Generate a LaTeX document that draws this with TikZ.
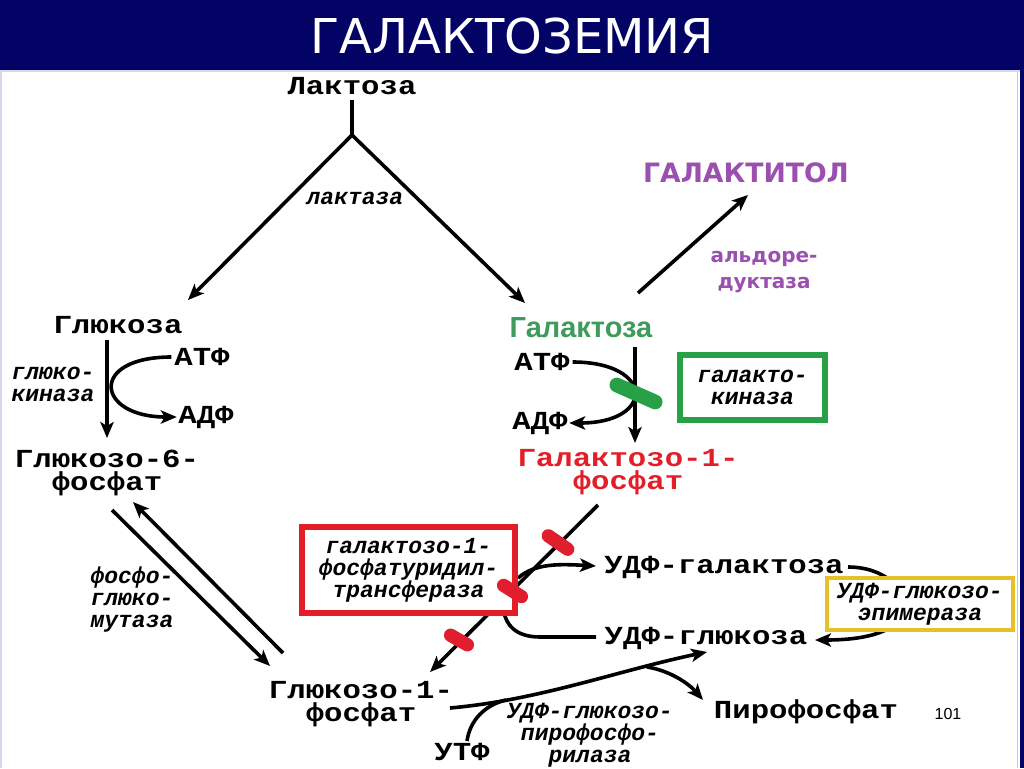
\documentclass[tikz,border=0pt]{standalone}
\usepackage{fontspec}
\setmainfont{Liberation Mono}
\newfontfamily\cour[FakeStretch=1.18]{Liberation Mono}
\newfontfamily\couri{Liberation Mono}
\newfontfamily\dejavu{DejaVu Sans}
\newfontfamily\arialf{Liberation Sans}
\usetikzlibrary{arrows.meta}
\definecolor{navy}{RGB}{3,3,102}
\definecolor{edge}{RGB}{215,215,235}
\definecolor{galgreen}{RGB}{62,155,92}
\definecolor{boxgreen}{RGB}{40,160,70}
\definecolor{galred}{RGB}{228,30,40}
\definecolor{blobred}{RGB}{225,30,45}
\definecolor{purp}{RGB}{155,80,175}
\definecolor{gold}{RGB}{230,192,40}
\tikzset{
  chem/.style={font=\cour\bfseries\fontsize{19.5pt}{17.8pt}\selectfont, inner sep=0pt, align=center},
  enz/.style={font=\couri\bfseries\itshape\fontsize{17.25pt}{16.5pt}\selectfont, inner sep=0pt, align=center},
  rxn/.style={line width=2.7pt, -{Stealth[length=12pt,width=10pt,inset=3pt]}},
  plain/.style={line width=2.7pt},
  blob/.style={line width=10pt, line cap=round},
  enzbox/.style={enz, draw, fill=white, rectangle},
}
\begin{document}
\begin{tikzpicture}[x=0.75pt,y=-0.75pt]
\useasboundingbox (0,0) rectangle (1024,768);
\fill[white] (0,0) rectangle (1024,768);
\fill[navy] (0,0) rectangle (1024,70);
\fill[navy] (1020,70) rectangle (1024,768);
\fill[edge] (0,70) rectangle (2,768);
\draw[edge, line width=1pt] (0,71) -- (1020,71);
\draw[edge!80!gray, line width=0.75pt] (1017,72) -- (1017,768);

\node[font=\dejavu\fontsize{36pt}{40pt}\selectfont, text=white, inner sep=0pt] (title) at (512,36) {ГАЛАКТОЗЕМИЯ};

% nodes
\node[chem] (lac) at (352,86) {Лактоза};
\node[enz] (lactase) at (355,198) {лактаза};
\node[chem] (glc) at (118,325) {Глюкоза};
\node[enz] (gk) at (53,384) {глюко-\\киназа};
\node[chem] (atp1) at (202,357) {АТФ};
\node[chem] (adp1) at (206,417) {АДФ};
\node[chem] (g6p) at (107,473) {Глюкозо-6-\\фосфат};
\node[enz] (pgm) at (132,600) {фосфо-\\глюко-\\мутаза};
\node[font=\arialf\bfseries\fontsize{21.75pt}{24pt}\selectfont, text=galgreen, inner sep=0pt] (gal) at (581,328) {Галактоза};
\node[chem] (atp2) at (542,362) {АТФ};
\node[chem] (adp2) at (540,423) {АДФ};
\node[enzbox, draw=boxgreen, line width=4.5pt, minimum width=108.75pt, minimum height=48.75pt] (galk) at (752.5,387.5) {галакто-\\киназа};
\node[chem, text=galred] (gal1p) at (628,472) {Галактозо-1-\\фосфат};
\node[font=\dejavu\bfseries\fontsize{20pt}{22pt}\selectfont, text=purp, inner sep=0pt] (galtol) at (746,173) {ГАЛАКТИТОЛ};
\node[font=\dejavu\bfseries\fontsize{15pt}{20pt}\selectfont, text=purp, inner sep=0pt, align=center] (aldr) at (764,272) {альдоре-\\дуктаза};
\node[chem] (udpgal) at (724,567) {УДФ-галактоза};
\node[chem] (udpglc) at (706,638) {УДФ-глюкоза};
\node[chem] (g1p) at (361,704) {Глюкозо-1-\\фосфат};
\node[chem] (utp) at (462,752) {УТФ};
\node[enz] (ugp) at (590,735) {УДФ-глюкозо-\\пирофосфо-\\рилаза};
\node[chem] (ppi) at (806,712) {Пирофосфат};
\node[font=\arialf\fontsize{12pt}{14pt}\selectfont, inner sep=0pt] (pn) at (948,714) {101};

% coordinates
\coordinate (lacb) at (352,100);
\coordinate (split) at (352,135);
\coordinate (glcA) at (188,300);
\coordinate (galA) at (525,303);
\coordinate (k1a) at (107,340);
\coordinate (k1b) at (107,438);
\coordinate (m1a) at (112,510);
\coordinate (m1b) at (270,666);
\coordinate (m2a) at (283,653);
\coordinate (m2b) at (133,502);
\coordinate (k2a) at (635,347);
\coordinate (k2b) at (635,443);
\coordinate (t1) at (638,293);
\coordinate (t2) at (748,195);
\coordinate (d1) at (598,505);
\coordinate (d2) at (430,672);
\coordinate (u1) at (518,578);
\coordinate (u2) at (596,566);
\coordinate (v1) at (596,637);
\coordinate (v2) at (504,612);
\coordinate (e1) at (848,567);
\coordinate (e2) at (815,640);
\coordinate (g1) at (450,708);
\coordinate (g2) at (707,652);
\coordinate (p1) at (647,667);
\coordinate (p2) at (703,700);
\coordinate (w1) at (467,741);
\coordinate (w2) at (506,700);

% connectors
\draw[plain] (lacb) -- (split);
\draw[rxn] (split) -- (glcA);
\draw[rxn] (split) -- (galA);
\draw[rxn] (k1a) -- (k1b);
\draw[rxn] ([xshift=-2pt]atp1.west) .. controls (88,357) and (96,417) .. ([xshift=-1pt]adp1.west);
\draw[rxn] (m1a) -- (m1b);
\draw[rxn] (m2a) -- (m2b);
\draw[rxn] (k2a) -- (k2b);
\draw[rxn] ([xshift=2pt]atp2.east) .. controls (655,362) and (655,423) .. ([xshift=1pt]adp2.east);
\draw[rxn] (t1) -- (t2);
\draw[rxn] (d1) -- (d2);
\draw[rxn] (u1) .. controls (535,563) and (560,564) .. (u2);
\draw[plain] (v1) -- (540,637) .. controls (515,637) and (506,624) .. (v2);
\draw[rxn] (e1) .. controls (885,567) and (905,590) .. (905,605) .. controls (905,625) and (880,640) .. (e2);
\draw[rxn] (g1) .. controls (540,700) and (620,670) .. (g2);
\draw[rxn] (p1) .. controls (672,671) and (690,685) .. (p2);
\draw[plain] (w1) .. controls (470,720) and (485,705) .. (w2);

% enzyme boxes over lines
\node[enzbox, draw=galred, line width=4.5pt, minimum width=159.75pt, minimum height=64.5pt] (galt) at (408.5,570) {галактозо-1-\\фосфатуридил-\\трансфераза};
\node[enzbox, draw=gold, line width=3pt, minimum width=139.5pt, minimum height=39pt] (epi) at (920,604) {УДФ-глюкозо-\\эпимераза};

% inhibition blobs
\draw[blob, boxgreen, line width=11pt] (616.8,385) -- (655.2,402);
\draw[blob, blobred] (548.3,535.8) -- (567.7,549.2);
\draw[blob, blobred] (503.6,585.4) -- (521.4,596.6);
\draw[blob, blobred] (450.6,635.2) -- (467.4,644.8);
\end{tikzpicture}
\end{document}
